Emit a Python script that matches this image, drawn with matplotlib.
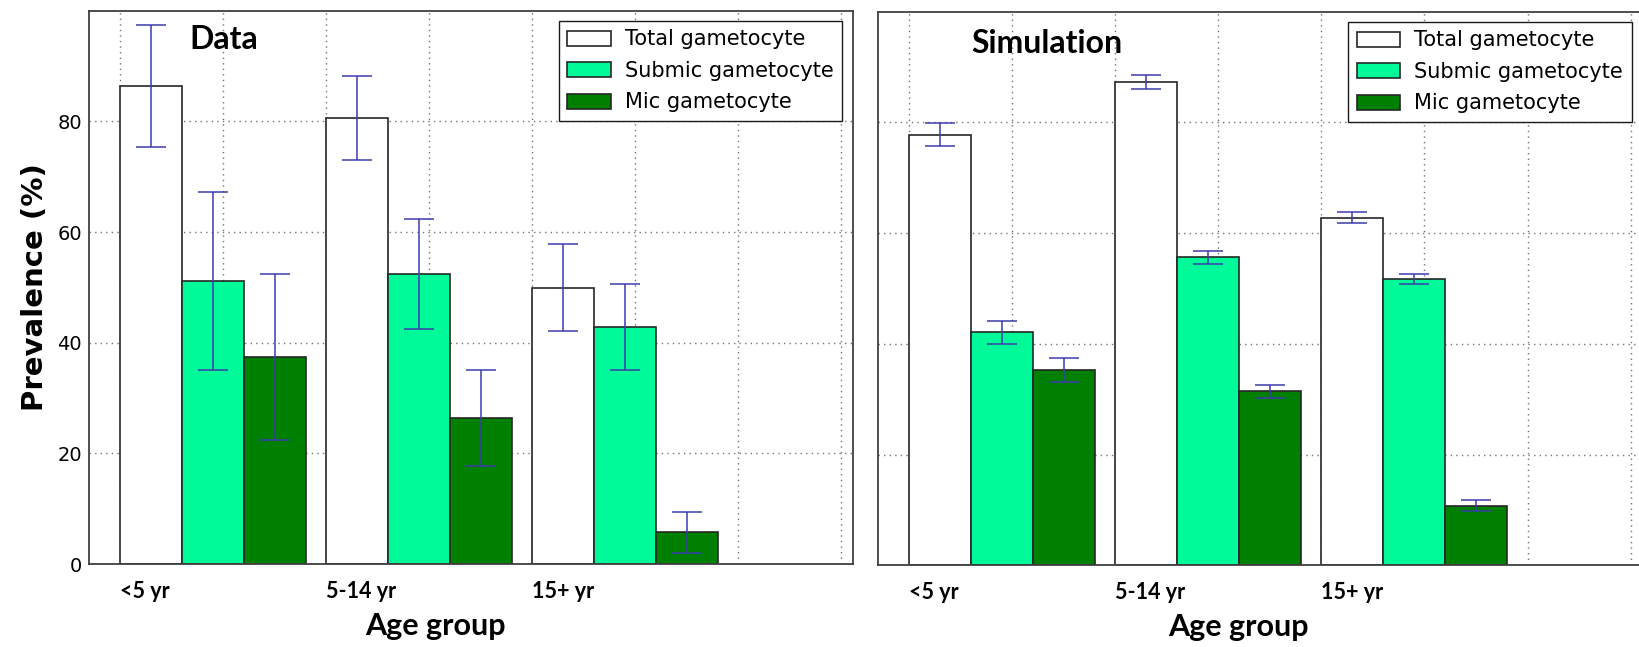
import matplotlib
matplotlib.use("Agg")
import matplotlib.pyplot as plt
import numpy as np

# Age groups and series
age_groups = ["<5 yr", "5-14 yr", "15+ yr"]
series_names = ["Total gametocyte", "Submic gametocyte", "Mic gametocyte"]

# Observed prevalence (%) and error half-widths
data_total = [86.4, 80.6, 49.9]
data_submic = [51.2, 52.4, 42.9]
data_mic = [37.5, 26.4, 5.7]
data_total_err = [11.0, 7.6, 7.85]
data_submic_err = [16.1, 9.9, 7.75]
data_mic_err = [15.0, 8.7, 3.65]

# Simulated prevalence (%) and error half-widths
sim_total = [77.8, 87.3, 62.8]
sim_submic = [42.1, 55.6, 51.8]
sim_mic = [35.3, 31.4, 10.8]
sim_total_err = [2.1, 1.3, 0.95]
sim_submic_err = [2.05, 1.2, 0.9]
sim_mic_err = [2.15, 1.2, 0.95]

fill_colors = ["white", "#00fa9a", "#008000"]
err_color = "#3c3cac"
width = 0.3

fig = plt.figure(figsize=(16.4, 6.47), dpi=100)
ax_l = fig.add_axes([89 / 1640, 1 - 564 / 647, (852.7 - 89) / 1640, (564 - 10.7) / 647])
ax_r = fig.add_axes([877.7 / 1640, 1 - 565.3 / 647, (1642 - 877.7) / 1640, (565.3 - 11.7) / 647])


def draw_panel(ax, values, errors, title, title_xy, xlabel_x, show_ylabels):
    ind = np.arange(len(age_groups))
    handles = []
    for k, (vals, errs) in enumerate(zip(values, errors)):
        b = ax.bar(ind + k * width, vals, width, align="edge",
                   color=fill_colors[k], edgecolor="0.15", linewidth=1.2,
                   label=series_names[k], zorder=2)
        ax.errorbar(ind + k * width + width / 2, vals, yerr=errs, fmt="none",
                    ecolor=err_color, elinewidth=1.1, capsize=10.5,
                    capthick=1.1, zorder=3)
        handles.append(b)
    ax.set_xlim(-0.152, 3.555)
    ax.set_ylim(0, 100)
    ticks = np.arange(0, 3.6, 0.5)
    labels = []
    for t in ticks:
        labels.append(age_groups[int(t)] if float(t).is_integer() and int(t) < len(age_groups) else "")
    ax.set_xticks(ticks)
    ax.set_xticklabels(labels, ha="left", family="Lato", fontweight="bold", fontsize=15.5)
    ax.set_yticks([0, 20, 40, 60, 80])
    ax.tick_params(axis="x", length=0, pad=12)
    ax.tick_params(axis="y", length=0, pad=5, labelsize=14)
    if not show_ylabels:
        ax.tick_params(axis="y", labelleft=False)
    ax.grid(True, linestyle=(0, (1, 3)), color="0.45", linewidth=1.0, zorder=0)
    ax.set_axisbelow(True)
    for s in ax.spines.values():
        s.set_linewidth(1.3)
        s.set_color("0.25")
    ax.set_xlabel("Age group", family="Lato", fontweight="bold", fontsize=22)
    ax.xaxis.set_label_coords(xlabel_x, -0.1283)
    ax.xaxis.label.set_va("baseline")
    ax.legend(handles=handles, loc="upper right", fontsize=15, fancybox=False,
              framealpha=1, edgecolor="0.1", borderaxespad=0.5,
              handlelength=2.07, handleheight=0.72, labelspacing=0.55,
              handletextpad=0.7)
    ax.text(title_xy[0], title_xy[1], title, transform=ax.transAxes, family="Lato",
            fontweight="bold", fontsize=23, va="baseline", ha="left")
    return ax


draw_panel(ax_l, [data_total, data_submic, data_mic],
           [data_total_err, data_submic_err, data_mic_err],
           "Data", (0.132, 0.930), 0.4537, True)
draw_panel(ax_r, [sim_total, sim_submic, sim_mic],
           [sim_total_err, sim_submic_err, sim_mic_err],
           "Simulation", (0.122, 0.9254), 0.4726, False)

ax_l.set_ylabel("Prevalence (%)", fontweight="bold", fontsize=21, labelpad=6)

fig.savefig("out.png", dpi=100)
